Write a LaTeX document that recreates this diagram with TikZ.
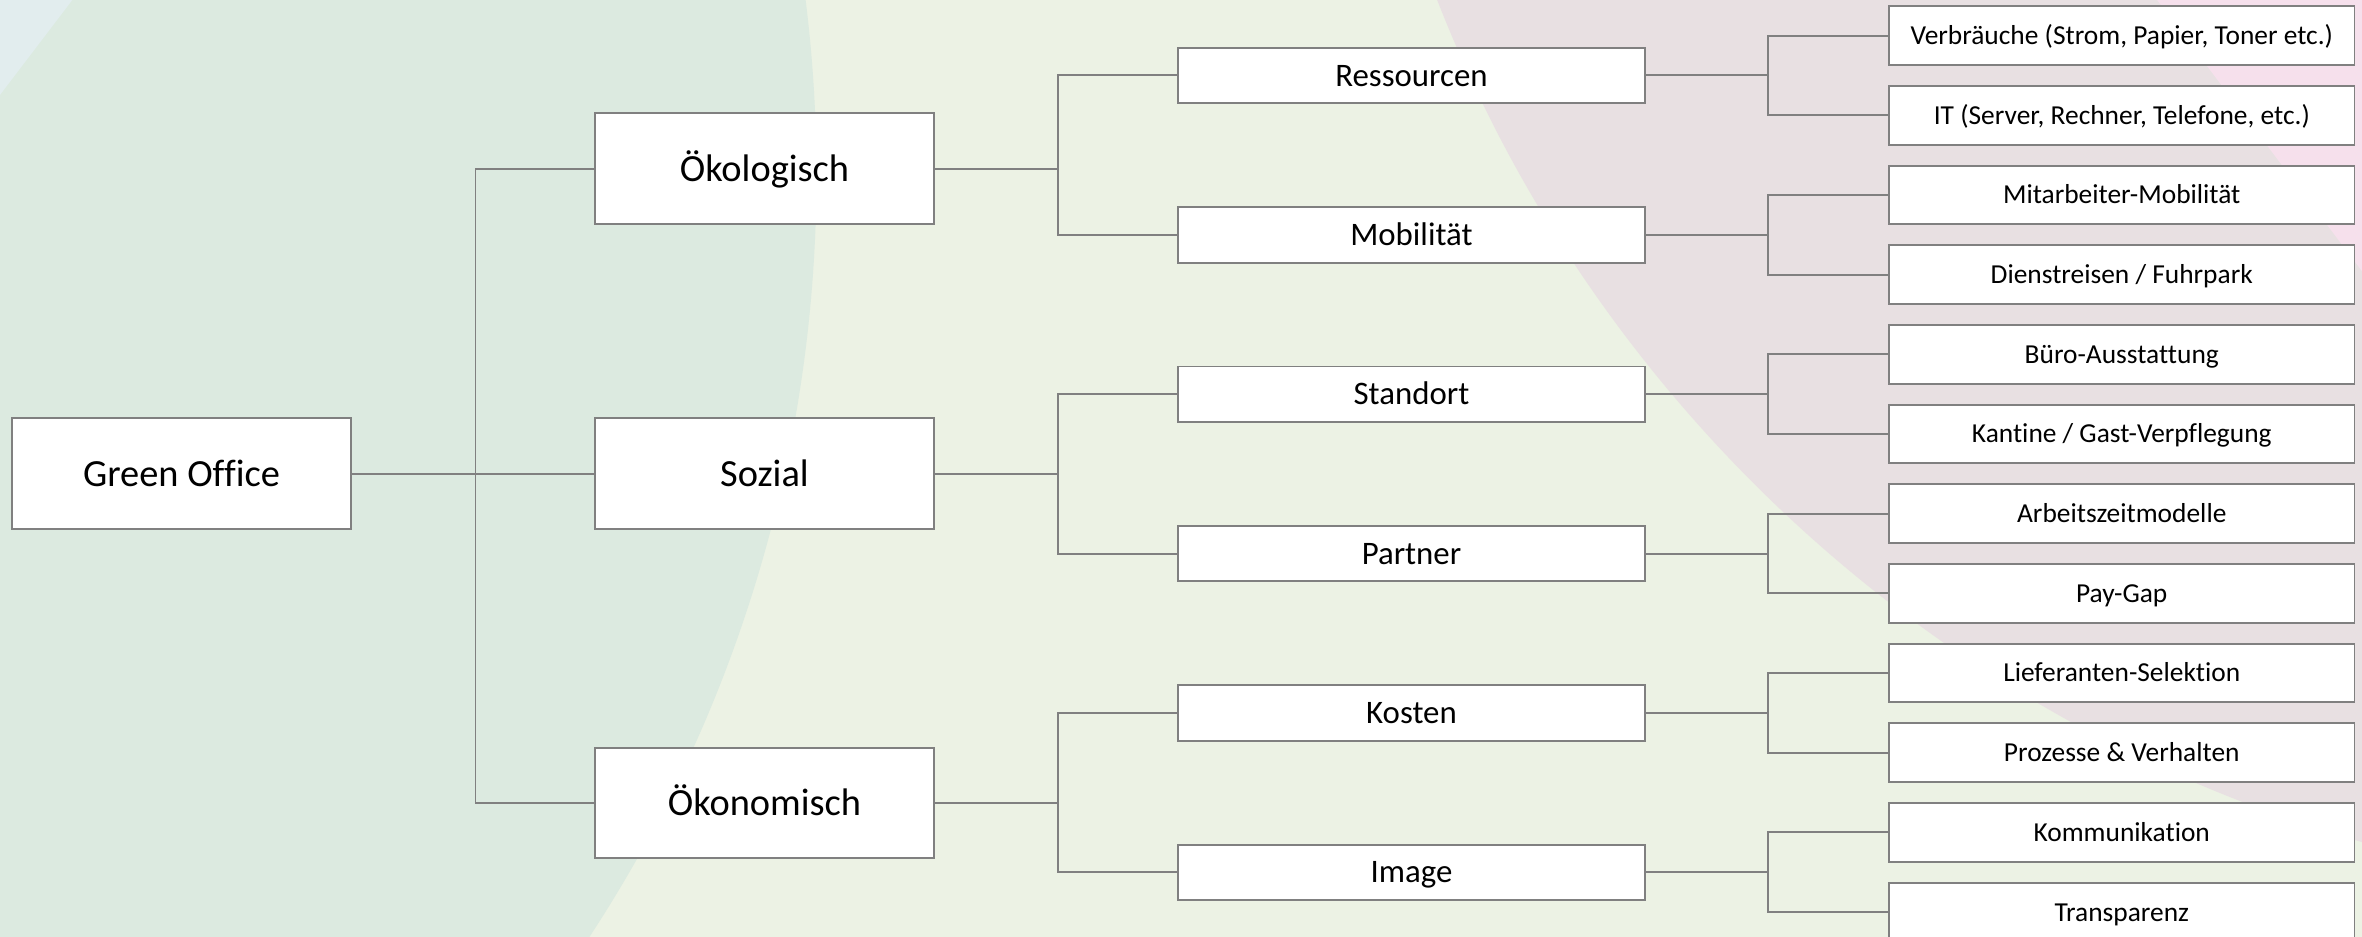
\documentclass[tikz,border=0pt]{standalone}
\usepackage{fontspec}
\setmainfont{Carlito}[Ligatures={NoCommon,NoContextual}]
\definecolor{cmid}{HTML}{ECF2E4}
\definecolor{csage}{HTML}{DCEAE0}
\definecolor{cblue}{HTML}{E2EDEE}
\definecolor{cpinkgray}{HTML}{E8E0E2}
\definecolor{cpink}{HTML}{F6E0EC}
\definecolor{linegray}{HTML}{808080}
\begin{document}
\begin{tikzpicture}[x=1pt,y=-1pt,
  box/.style={draw=linegray, line width=1.3pt, fill=white, inner sep=0pt, anchor=center, text depth=0pt},
  lone/.style={box, minimum width=225pt, minimum height=73.5pt, text height=16.4pt, font=\fontsize{25.5}{30}\selectfont},
  ltwo/.style={box, minimum width=310pt, minimum height=36.8pt, text height=14pt, font=\fontsize{21.8}{25}\selectfont},
  lthree/.style={box, minimum width=309pt, minimum height=39pt, text height=11.8pt, font=\fontsize{18.2}{21}\selectfont},
  conn/.style={draw=linegray, line width=1.3pt}]
\useasboundingbox (0,0) rectangle (1568,622);
% background
\fill[cmid] (0,0) rectangle (1568,622);
\begin{scope}
  \clip (0,0) rectangle (1568,622);
  \fill[csage] (-382,116) circle[radius=924pt];
  \fill[cblue] (0,0) -- (48,0) -- (0,63) -- cycle;
  \fill[cpinkgray] (1826,-341) circle[radius=936pt];
  \fill[cpink] (1432,0) -- (1568,0) -- (1568,180) -- cycle;
\end{scope}
% level 0 and 1
\node[lone] (go) at (120.5,314.5) {Green Office};
\node[lone] (oek) at (507.5,112) {Ökologisch};
\node[lone] (soz) at (507.5,314.5) {Sozial};
\node[lone] (okn) at (507.5,533) {Ökonomisch};
% level 2
\node[ltwo] (res) at (937,50.1) {Ressourcen};
\node[ltwo] (mob) at (937,155.9) {Mobilität};
\node[ltwo] (sta) at (937,261.7) {Standort};
\node[ltwo] (par) at (937,367.5) {Partner};
\node[ltwo] (kos) at (937,473.3) {Kosten};
\node[ltwo] (ima) at (937,579.1) {Image};
% level 3
\node[lthree] (c1) at (1408.5,23.6) {Verbräuche (Strom, Papier, Toner etc.)};
\node[lthree] (c2) at (1408.5,76.5) {IT (Server, Rechner, Telefone, etc.)};
\node[lthree] (c3) at (1408.5,129.4) {Mitarbeiter-Mobilität};
\node[lthree] (c4) at (1408.5,182.3) {Dienstreisen / Fuhrpark};
\node[lthree] (c5) at (1408.5,235.2) {Büro-Ausstattung};
\node[lthree] (c6) at (1408.5,288.1) {Kantine / Gast-Verpflegung};
\node[lthree] (c7) at (1408.5,341.0) {Arbeitszeitmodelle};
\node[lthree] (c8) at (1408.5,393.9) {Pay-Gap};
\node[lthree] (c9) at (1408.5,446.8) {Lieferanten-Selektion};
\node[lthree] (c10) at (1408.5,499.7) {Prozesse \& Verhalten};
\node[lthree] (c11) at (1408.5,552.6) {Kommunikation};
\node[lthree] (c12) at (1408.5,605.5) {Transparenz};
% connectors
\foreach \c in {oek,soz,okn} \draw[conn] (go.east) -- ++(82,0) |- (\c.west);
\foreach \c in {res,mob} \draw[conn] (oek.east) -- ++(82,0) |- (\c.west);
\foreach \c in {sta,par} \draw[conn] (soz.east) -- ++(82,0) |- (\c.west);
\foreach \c in {kos,ima} \draw[conn] (okn.east) -- ++(82,0) |- (\c.west);
\foreach \c in {c1,c2} \draw[conn] (res.east) -- ++(81,0) |- (\c.west);
\foreach \c in {c3,c4} \draw[conn] (mob.east) -- ++(81,0) |- (\c.west);
\foreach \c in {c5,c6} \draw[conn] (sta.east) -- ++(81,0) |- (\c.west);
\foreach \c in {c7,c8} \draw[conn] (par.east) -- ++(81,0) |- (\c.west);
\foreach \c in {c9,c10} \draw[conn] (kos.east) -- ++(81,0) |- (\c.west);
\foreach \c in {c11,c12} \draw[conn] (ima.east) -- ++(81,0) |- (\c.west);
\end{tikzpicture}
\end{document}
